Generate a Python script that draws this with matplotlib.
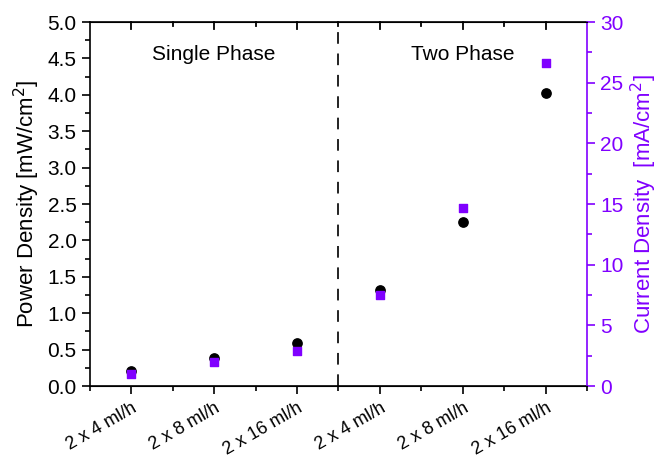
import numpy as np
import matplotlib
matplotlib.use('Agg')
import matplotlib.pyplot as plt
from matplotlib.ticker import MultipleLocator, FormatStrFormatter

plt.rcParams['font.family'] = ['Liberation Sans', 'DejaVu Sans']

flow_labels = ['2 x 4 ml/h', '2 x 8 ml/h', '2 x 16 ml/h', '2 x 4 ml/h', '2 x 8 ml/h', '2 x 16 ml/h']
power_density = [0.20, 0.39, 0.59, 1.32, 2.25, 4.02]
current_density = [1.0, 2.0, 2.9, 7.5, 14.7, 26.6]

purple = '#8000ff'
x = np.arange(1, len(flow_labels) + 1)

fig = plt.figure(figsize=(6.61, 4.59), dpi=100)
ax = fig.add_axes([0.136, 0.159, 0.752, 0.793])
ax2 = ax.twinx()

ax.scatter(x, power_density, marker='o', s=45, color='black', zorder=3)
ax2.scatter(x, current_density, marker='s', s=38, color=purple, zorder=2)

ax.axvline(3.5, color='#222222', linestyle=(0, (6, 5)), linewidth=1.4)

ax.set_xlim(0.5, 6.5)
ax.set_ylim(0, 5)
ax2.set_ylim(0, 30)
ax.set_xticks(x)
ax.set_xticklabels(flow_labels, rotation=30, ha='right', rotation_mode='anchor', fontsize=13)
ax.xaxis.set_minor_locator(MultipleLocator(0.5))
ax.yaxis.set_major_locator(MultipleLocator(0.5))
ax.yaxis.set_minor_locator(MultipleLocator(0.25))
ax.yaxis.set_major_formatter(FormatStrFormatter('%.1f'))
ax2.yaxis.set_major_locator(MultipleLocator(5))
ax2.yaxis.set_minor_locator(MultipleLocator(2.5))

ax.tick_params(axis='x', which='major', length=6, width=1.2, labelsize=13)
ax.tick_params(axis='x', which='minor', length=3.5, width=1.2)
ax.tick_params(axis='y', which='major', length=6, width=1.2, labelsize=15)
ax.tick_params(axis='y', which='minor', length=3.5, width=1.2)
ax2.tick_params(axis='y', which='major', length=6, width=1.2, labelsize=15, colors=purple)
ax2.tick_params(axis='y', which='minor', length=3.5, width=1.2, colors=purple)

# inward ticks hanging from the top spine
for xt in x:
    ax.plot([xt, xt], [1, 0.98], transform=ax.get_xaxis_transform(), color='black', lw=1.3, clip_on=False)
for xt in np.arange(1.5, 6.5, 1.0):
    ax.plot([xt, xt], [1, 0.988], transform=ax.get_xaxis_transform(), color='black', lw=1.3, clip_on=False)

for s in ['left', 'bottom', 'top']:
    ax.spines[s].set_linewidth(1.2)
ax2.spines['right'].set_color(purple)
ax2.spines['right'].set_linewidth(1.2)
ax2.spines['left'].set_visible(False)
ax.spines['right'].set_visible(False)

ax.set_ylabel('Power Density [mW/cm$^2$]', fontsize=16)
ax2.set_ylabel('Current Density  [mA/cm$^2$]', fontsize=16, color=purple)

ax.text(2, 4.55, 'Single Phase', ha='center', va='center', fontsize=15)
ax.text(5, 4.55, 'Two Phase', ha='center', va='center', fontsize=15)

fig.savefig('out.png', dpi=100)
